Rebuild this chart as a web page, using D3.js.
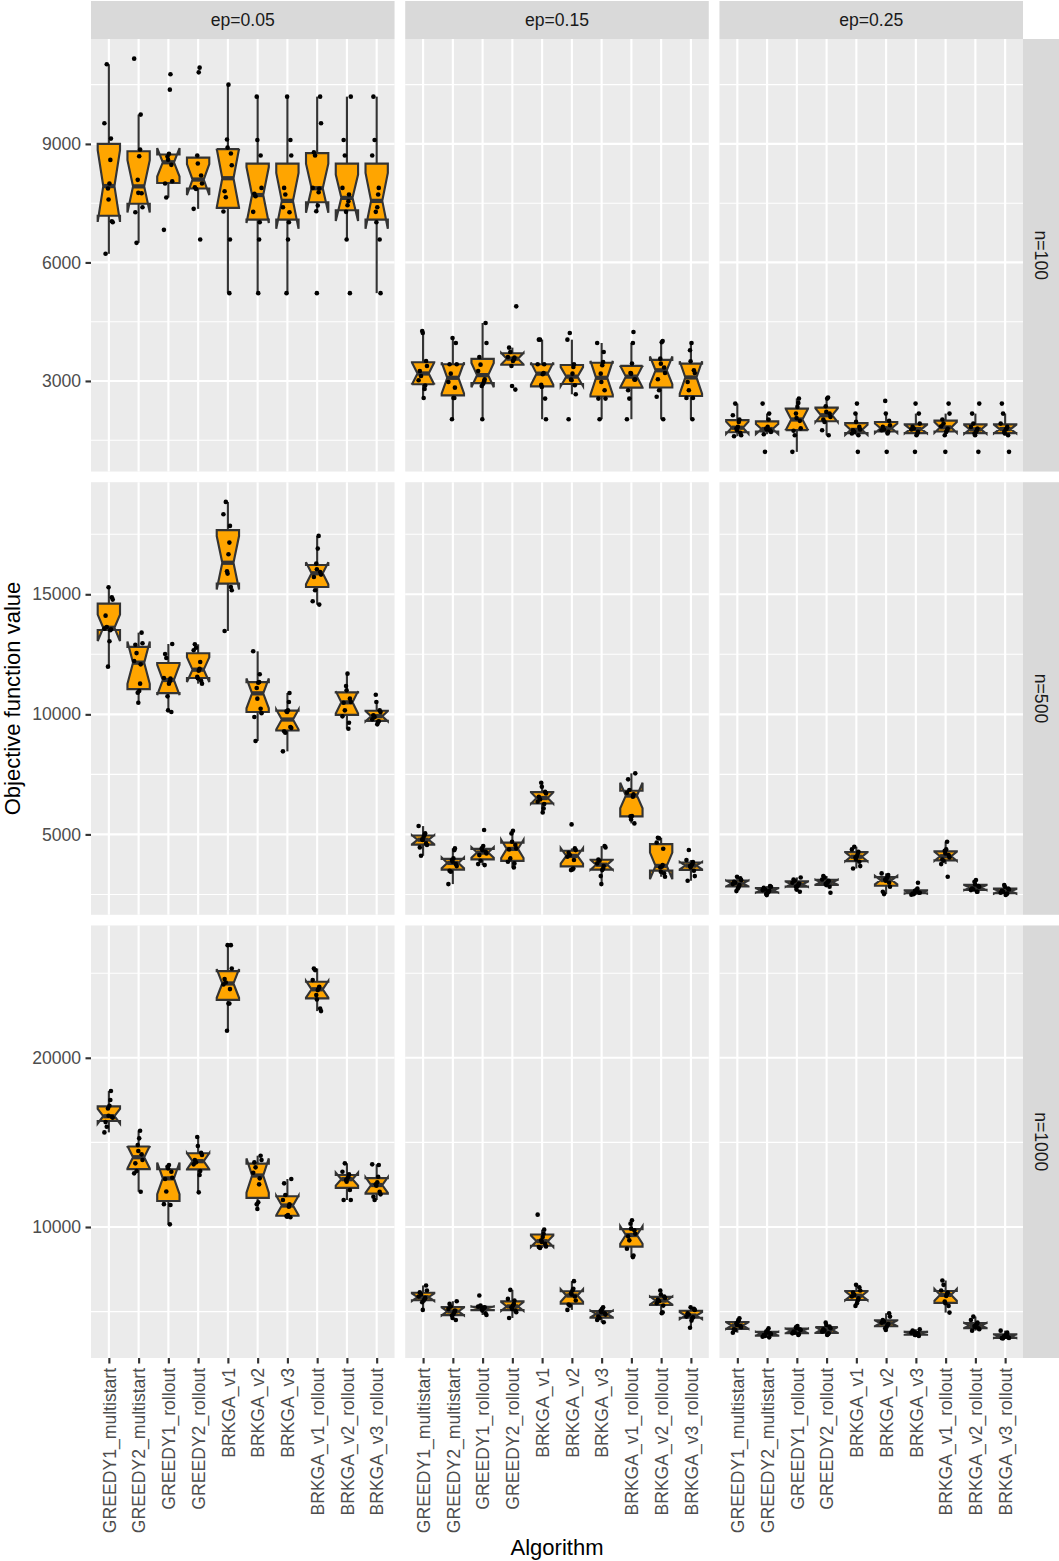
<!DOCTYPE html>
<html>
<head>
<meta charset="utf-8">
<script src="https://cdn.jsdelivr.net/npm/d3@7"></script>
<style>
  body { margin: 0; background: #fff; }
  svg { display: block; font-family: "Liberation Sans", Arial, Helvetica, sans-serif; }
</style>
</head>
<body>
<div id="chart"></div>
<script>
// Notched boxplots + jittered runs, faceted by n (rows) and ep (columns)
const algorithms = ["GREEDY1_multistart", "GREEDY2_multistart", "GREEDY1_rollout", "GREEDY2_rollout",
  "BRKGA_v1", "BRKGA_v2", "BRKGA_v3", "BRKGA_v1_rollout", "BRKGA_v2_rollout", "BRKGA_v3_rollout"];
const epLabels = ["ep=0.05", "ep=0.15", "ep=0.25"];
const nLabels = ["n=100", "n=500", "n=1000"];

// y breaks per row (free y scales)
const majorN100 = [3000, 6000, 9000];
const minorN100 = [1500, 4500, 7500, 10500];
const majorN500 = [5000, 10000, 15000];
const minorN500 = [2500, 7500, 12500, 17500];
const majorN1000 = [10000, 20000];
const minorN1000 = [5000, 15000, 25000];

// 10 runs per algorithm, objective values
const n100_ep005 = [
  [6218,7019,7044,7592,7870,7997,8595,9135,9523,11015],
  [6496,7272,7398,7752,7761,8090,8688,8857,9742,11158],
  [6825,7643,7997,8056,8470,8600,8680,8750,10374,10762],
  [6581,7356,7860,7900,7997,8199,8503,8705,10812,10930],
  [5223,6581,7289,7651,7803,8460,8756,8907,9110,10500],
  [5223,6581,7019,7280,7676,7736,7887,8705,9101,10197],
  [5223,6581,7019,7272,7398,7719,7887,8705,9101,10197],
  [5223,7297,7440,7778,7870,7887,8705,8789,9523,10197],
  [5223,6581,7280,7449,7550,7719,7887,8705,9101,10197],
  [5223,6581,7019,7280,7398,7719,7887,8705,9101,10197]
];
const n100_ep015 = [
  [2570,2798,2882,3017,3126,3253,3379,3506,4214,4265],
  [2031,2570,2570,2831,2975,3185,3422,3422,3961,4087],
  [2031,2874,2930,2990,3042,3253,3413,3607,3961,4467],
  [2781,2874,3379,3506,3540,3590,3607,3733,3843,4888],
  [2031,2553,2850,2900,3169,3202,3422,3422,4045,4045],
  [2031,2663,2890,3017,3034,3185,3354,3422,4045,4214],
  [2031,2553,2553,2764,2975,3185,3400,3480,3733,3961],
  [2031,2553,2764,3034,3034,3185,3202,3440,3961,4239],
  [2031,2600,2764,3042,3200,3340,3438,3565,3978,4012],
  [2031,2570,2570,2764,2975,3202,3270,3497,3776,3961]
];
const n100_ep025 = [
  [1601,1626,1685,1753,1795,1837,1964,2023,2132,2427],
  [1205,1652,1711,1753,1770,1795,1837,2023,2174,2427],
  [1205,1626,1740,1800,1990,2060,2174,2343,2444,2554],
  [1626,1753,1964,2023,2090,2174,2217,2360,2554,2579],
  [1205,1626,1669,1711,1753,1770,1837,1964,2174,2427],
  [1205,1669,1711,1753,1770,1837,1879,1990,2174,2495],
  [1205,1626,1669,1711,1770,1795,1837,1921,2174,2427],
  [1205,1626,1711,1753,1795,1854,1921,2023,2174,2427],
  [1205,1626,1669,1711,1753,1795,1837,1921,2174,2427],
  [1205,1626,1669,1711,1770,1795,1837,1921,2174,2427]
];
const n500_ep005 = [
  [11986,13042,13500,13542,13569,13639,14111,14778,14875,15292],
  [10486,10903,10972,11278,12083,12222,12550,12900,12958,13403],
  [10097,10167,10750,11278,11375,11486,11514,12347,12514,12931],
  [11278,11400,11500,11560,11820,11900,12181,12667,12778,12917],
  [13473,15167,15306,15862,15959,16667,17153,17848,18334,18848],
  [8889,9889,10050,10236,10653,11097,11319,11347,11667,12625],
  [8458,9236,9292,9431,9472,10097,10125,10167,10514,10889],
  [14570,14709,15167,15723,15820,15931,16042,16278,16903,17431],
  [9403,9653,9917,10167,10486,10514,10653,11000,11181,11694],
  [9583,9681,9708,9792,9889,9958,10097,10167,10514,10819]
];
const n500_ep015 = [
  [4111,4458,4556,4625,4764,4792,4903,4972,5042,5347],
  [2931,3444,3486,3681,3764,3861,3931,4000,4347,4417],
  [3722,3764,3903,4139,4208,4278,4347,4417,4514,5181],
  [3625,3792,3861,4000,4375,4417,4556,4694,5042,5153],
  [5917,6083,6264,6361,6458,6569,6708,6778,6986,7153],
  [3514,3542,3583,3931,4069,4139,4236,4347,4417,5417],
  [2931,3264,3514,3583,3681,3792,3903,3958,4458,4514],
  [5458,5625,5750,5764,6569,6667,6736,6847,7292,7542],
  [3236,3375,3444,3625,3653,3722,4400,4660,4833,4861],
  [3069,3264,3486,3625,3681,3722,3764,3850,3931,4350]
];
const n500_ep025 = [
  [2639,2750,2819,2889,2931,2986,3028,3097,3167,3236],
  [2472,2514,2569,2611,2653,2681,2708,2778,2819,2847],
  [2611,2708,2819,2847,2889,2958,2986,3069,3125,3208],
  [2569,2819,2889,2931,2986,3028,3069,3125,3208,3264],
  [3583,3681,3861,3958,4042,4097,4208,4278,4375,4486],
  [2514,2611,2819,2986,3069,3125,3167,3236,3306,3375],
  [2486,2514,2542,2569,2583,2611,2653,2681,2750,2986],
  [3236,3764,3903,3958,4042,4139,4208,4319,4375,4694],
  [2611,2611,2681,2708,2750,2819,2847,2917,3028,3097],
  [2480,2514,2542,2569,2611,2653,2708,2750,2819,2889]
];
const n1000_ep005 = [
  [15592,15927,16200,16458,16517,16577,17010,17167,17502,18034],
  [12087,13170,13308,13761,13958,14292,14489,14844,15238,15690],
  [10158,11300,11350,12100,12835,12914,13268,13465,13564,13662],
  [12048,13072,13308,13702,13820,13958,14253,14391,14785,15316],
  [21597,23212,23212,24059,24334,24452,24649,25279,26658,26658],
  [11063,11339,11457,12520,12875,13209,13524,13820,13958,14214],
  [10580,10610,10650,10700,11201,11339,11595,11890,12579,12835],
  [22759,22917,23450,23704,23999,24098,24196,24590,25181,25279],
  [11595,11595,12186,12678,12776,12875,12973,13111,13268,13761],
  [11595,11792,11930,12087,12442,12520,12638,12973,13662,13702]
];
const n1000_ep015 = [
  [5100,5554,5653,5732,5811,5890,6008,6147,6246,6542],
  [4507,4625,4764,4862,4961,5060,5159,5297,5455,5613],
  [4800,4902,5060,5159,5198,5218,5258,5297,5356,5949],
  [4625,4961,5060,5159,5258,5356,5455,5653,5752,6285],
  [8755,8814,8854,9012,9111,9210,9407,9605,9842,10731],
  [5100,5356,5416,5653,5890,6008,6087,6246,6344,6799],
  [4368,4507,4625,4704,4823,4902,4961,5060,5159,5258],
  [8222,8320,8716,9210,9447,9605,9802,9901,10198,10395],
  [4902,4961,5356,5495,5613,5692,5811,5890,6008,6246],
  [4050,4467,4625,4665,4704,4823,4902,5100,5159,5258]
];
const n1000_ep025 = [
  [3755,3913,3953,4071,4150,4210,4308,4407,4506,4605],
  [3478,3518,3558,3617,3676,3716,3755,3814,3913,4012],
  [3617,3676,3716,3755,3814,3913,3953,4012,4071,4150],
  [3617,3676,3716,3814,3874,3953,4012,4111,4210,4348],
  [5336,5494,5652,5790,5889,5988,6126,6245,6442,6581],
  [3913,4012,4111,4210,4269,4348,4407,4506,4704,4901],
  [3558,3617,3617,3676,3716,3716,3755,3814,3874,3953],
  [4941,5336,5494,5593,5929,6047,6126,6245,6581,6838],
  [3874,3953,4012,4071,4150,4210,4269,4348,4506,4704],
  [3420,3430,3440,3478,3518,3558,3617,3676,3755,3874]
];

// horizontal jitter pattern (fraction of a category step)
const jitterOffsets = [-0.11, 0.07, -0.03, 0.13, -0.15, 0.02, 0.10, -0.07, 0.05, -0.01];

const rows = [
  [n100_ep005, n100_ep015, n100_ep025],
  [n500_ep005, n500_ep015, n500_ep025],
  [n1000_ep005, n1000_ep015, n1000_ep025]
];
const majors = [majorN100, majorN500, majorN1000];
const minors = [minorN100, minorN500, minorN1000];

const W = 1059, H = 1561;
const plotL = 91, plotR = 1023, plotT = 39, plotB = 1358, gap = 10.7;
const pw = (plotR - plotL - 2 * gap) / 3;
const ph = (plotB - plotT - 2 * gap) / 3;

const boxStroke = "#333333", boxFill = "#FFA500";
const axisGrey = "#4D4D4D";
const lw = 2.13;

const svg = d3.select("#chart").append("svg")
  .attr("width", W)
  .attr("height", H);

const x = d3.scalePoint().domain(algorithms).range([0, pw]).padding(0.6);
const step = x.step();
const boxW = 0.75 * step;

function stats(values) {
  const s = values.slice().sort(d3.ascending);
  const q1 = d3.quantile(s, 0.25), med = d3.quantile(s, 0.5), q3 = d3.quantile(s, 0.75);
  const iqr = q3 - q1;
  const inside = s.filter(v => v >= q1 - 1.5 * iqr && v <= q3 + 1.5 * iqr);
  const notch = 1.58 * iqr / Math.sqrt(s.length);
  return {
    q1, med, q3,
    lo: d3.min(inside), hi: d3.max(inside),
    nl: med - notch, nu: med + notch
  };
}

rows.forEach((row, r) => {
  const all = row.flat(2);
  const [mn, mx] = d3.extent(all);
  const pad = (mx - mn) * 0.05;
  const y = d3.scaleLinear().domain([mn - pad, mx + pad]).range([ph, 0]);
  const top = plotT + r * (ph + gap);

  row.forEach((panel, c) => {
    const left = plotL + c * (pw + gap);
    const g = svg.append("g").attr("transform", `translate(${left},${top})`);

    g.append("rect").attr("width", pw).attr("height", ph).attr("fill", "#EBEBEB");

    // grid
    g.selectAll(".minor").data(minors[r]).join("line")
      .attr("x1", 0).attr("x2", pw)
      .attr("y1", d => y(d)).attr("y2", d => y(d))
      .attr("stroke", "#fff").attr("stroke-width", lw / 2);
    g.selectAll(".major").data(majors[r]).join("line")
      .attr("x1", 0).attr("x2", pw)
      .attr("y1", d => y(d)).attr("y2", d => y(d))
      .attr("stroke", "#fff").attr("stroke-width", lw);
    g.selectAll(".vgrid").data(algorithms).join("line")
      .attr("x1", d => x(d)).attr("x2", d => x(d))
      .attr("y1", 0).attr("y2", ph)
      .attr("stroke", "#fff").attr("stroke-width", lw);

    // boxes
    panel.forEach((vals, i) => {
      const st = stats(vals);
      const cx = x(algorithms[i]);
      const xl = cx - boxW / 2, xr = cx + boxW / 2, ind = boxW * 0.25;

      g.append("line").attr("x1", cx).attr("x2", cx)
        .attr("y1", y(st.q3)).attr("y2", y(st.hi))
        .attr("stroke", boxStroke).attr("stroke-width", lw);
      g.append("line").attr("x1", cx).attr("x2", cx)
        .attr("y1", y(st.q1)).attr("y2", y(st.lo))
        .attr("stroke", boxStroke).attr("stroke-width", lw);

      const pts = [
        [xl, y(st.q3)], [xl, y(st.nu)], [xl + ind, y(st.med)], [xl, y(st.nl)], [xl, y(st.q1)],
        [xr, y(st.q1)], [xr, y(st.nl)], [xr - ind, y(st.med)], [xr, y(st.nu)], [xr, y(st.q3)]
      ];
      g.append("path")
        .attr("d", d3.line()(pts) + "Z")
        .attr("fill", boxFill)
        .attr("stroke", boxStroke)
        .attr("stroke-width", lw)
        .attr("stroke-linejoin", "miter");
      g.append("line")
        .attr("x1", xl + ind).attr("x2", xr - ind)
        .attr("y1", y(st.med)).attr("y2", y(st.med))
        .attr("stroke", boxStroke).attr("stroke-width", lw * 2);
    });

    // jittered runs
    panel.forEach((vals, i) => {
      const cx = x(algorithms[i]);
      g.selectAll(null).data(vals).join("circle")
        .attr("cx", (d, k) => cx + jitterOffsets[(k * 3 + i * 7 + r * 2 + c * 5) % 10] * step)
        .attr("cy", d => y(d))
        .attr("r", 2.3)
        .attr("fill", "#000");
    });

    // y axis on left column
    if (c === 0) {
      const ax = g.append("g").call(d3.axisLeft(y).tickValues(majors[r])
        .tickSize(5.5).tickPadding(4.4).tickFormat(d3.format("d")));
      ax.select(".domain").remove();
      ax.selectAll(".tick line").attr("stroke", boxStroke).attr("stroke-width", lw);
      ax.selectAll(".tick text").attr("fill", axisGrey).style("font-size", "17.6px")
        .style("font-family", "'Liberation Sans', Arial, Helvetica, sans-serif");
    }

    // x axis on bottom row
    if (r === 2) {
      const ax = g.append("g").attr("transform", `translate(0,${ph})`)
        .call(d3.axisBottom(x).tickSize(5.5));
      ax.select(".domain").remove();
      ax.selectAll(".tick line").attr("stroke", boxStroke).attr("stroke-width", lw);
      ax.selectAll(".tick text")
        .attr("transform", "rotate(-90)")
        .attr("x", -9.9).attr("y", 0).attr("dy", "0.35em")
        .attr("text-anchor", "end")
        .attr("fill", axisGrey).style("font-size", "17.6px")
        .style("font-family", "'Liberation Sans', Arial, Helvetica, sans-serif");
    }

    // top strips
    if (r === 0) {
      svg.append("rect").attr("x", left).attr("y", 1).attr("width", pw).attr("height", plotT - 1)
        .attr("fill", "#D9D9D9");
      svg.append("text").attr("x", left + pw / 2).attr("y", (plotT + 1) / 2)
        .attr("text-anchor", "middle").attr("dominant-baseline", "central")
        .attr("fill", "#1A1A1A").style("font-size", "17.6px")
        .text(epLabels[c]);
    }
  });

  // right strip
  svg.append("rect").attr("x", plotR).attr("y", top).attr("width", W - plotR).attr("height", ph)
    .attr("fill", "#D9D9D9");
  svg.append("text")
    .attr("transform", `translate(${(plotR + W) / 2},${top + ph / 2}) rotate(90)`)
    .attr("text-anchor", "middle").attr("dominant-baseline", "central")
    .attr("fill", "#1A1A1A").style("font-size", "17.6px")
    .text(nLabels[r]);
});

// axis titles
svg.append("text")
  .attr("x", (plotL + plotR) / 2).attr("y", 1555)
  .attr("text-anchor", "middle")
  .style("font-size", "22px").attr("fill", "#000")
  .text("Algorithm");
svg.append("text")
  .attr("transform", `translate(19.5,${(plotT + plotB) / 2}) rotate(-90)`)
  .attr("text-anchor", "middle")
  .style("font-size", "22px").attr("fill", "#000")
  .text("Objective function value");
</script>
</body>
</html>
